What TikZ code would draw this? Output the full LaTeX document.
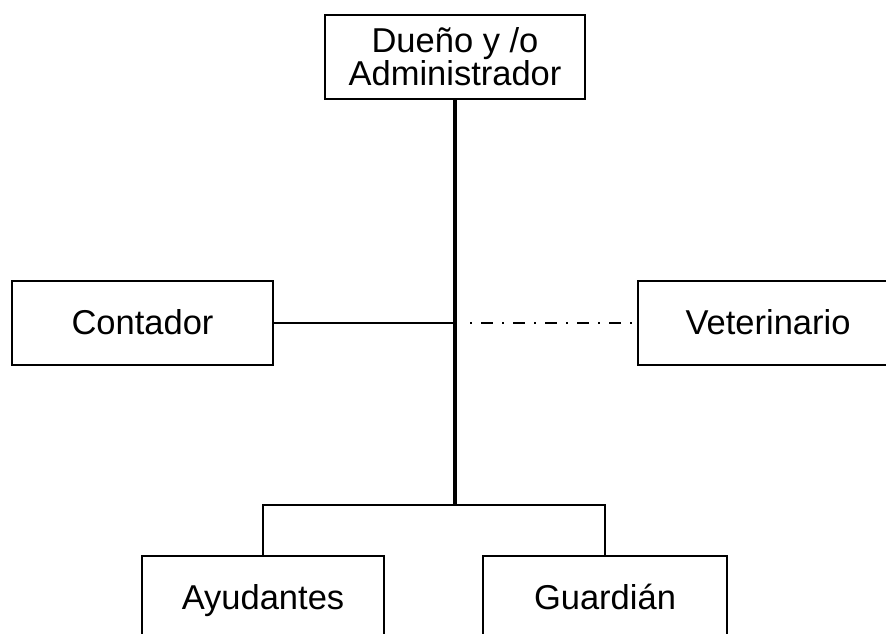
\documentclass[tikz,border=0pt]{standalone}
\usepackage{fontspec}
\setmainfont{Liberation Sans}
\begin{document}
\begin{tikzpicture}[x=1pt,y=-1pt,
  box/.style={draw=black, line width=1.6pt, rectangle, inner sep=0pt,
    minimum height=84pt, font=\fontsize{34.5}{33}\selectfont},
  onebox/.style={box, text height=22pt, text depth=0pt},
  thin/.style={draw=black, line width=1.8pt},
  thick/.style={draw=black, line width=3.3pt},
  dashdot/.style={draw=black, line width=1.8pt, dash pattern=on 2pt off 9pt on 12pt off 9pt}]
\useasboundingbox (0,0) rectangle (886,634);
\clip (0,0) rectangle (886,634);
\node[box, minimum width=260pt, align=center] (top) at (455,57) {Dueño y /o\\Administrador};
\node[onebox, minimum width=261pt] (cont) at (142.5,323) {Contador};
\node[onebox, minimum width=260pt] (vet) at (768,323) {Veterinario};
\node[onebox, minimum width=242pt] (ayud) at (263,598) {Ayudantes};
\node[onebox, minimum width=244pt] (guard) at (605,598) {Guardián};
\coordinate (j1) at (455,323);
\coordinate (j2) at (455,505);
\draw[thin] (cont.east) -- (j1);
\draw[dashdot, shorten <=15pt] (j1) -- (vet.west);
\draw[thin] (ayud.north) |- (j2) -| (guard.north);
\draw[thick] (top.south) -- (j2);
\end{tikzpicture}
\end{document}
